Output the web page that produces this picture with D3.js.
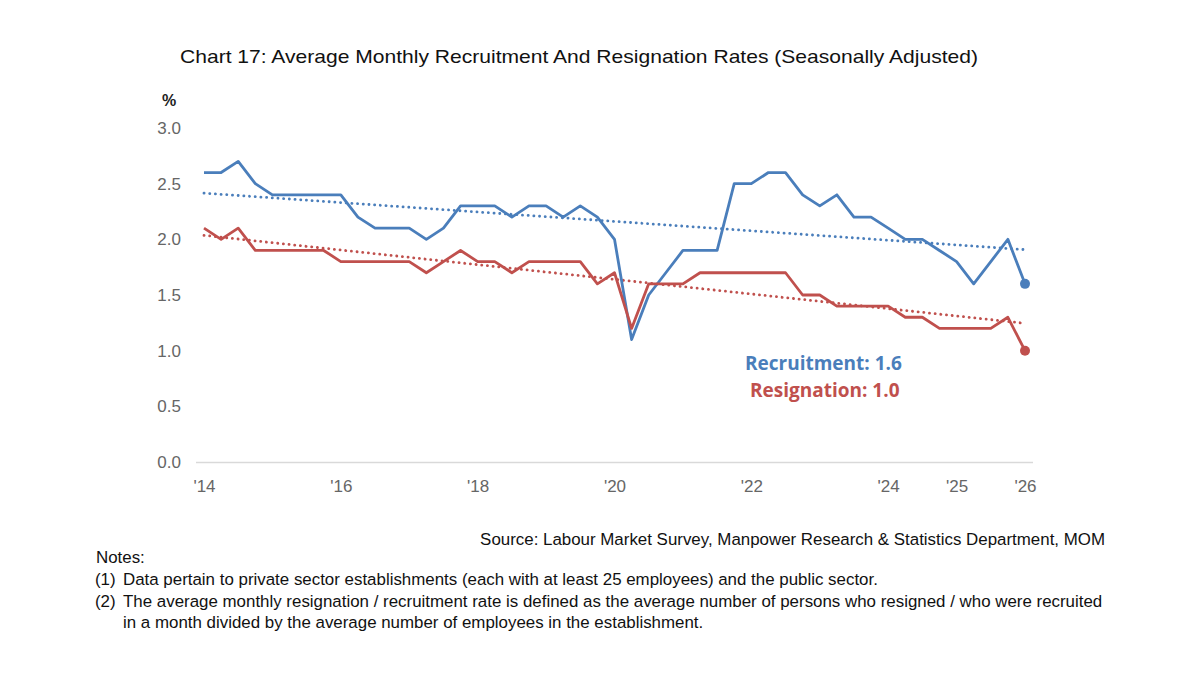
<!DOCTYPE html>
<html>
<head>
<meta charset="utf-8">
<script src="https://cdn.jsdelivr.net/npm/d3@7"></script>
<style>
  body { margin: 0; background: #fff; }
  svg { display: block; }
</style>
</head>
<body>
<svg id="chart" width="1200" height="675"></svg>
<script>
// quarterly, 2014 Q1 .. 2026 Q1
const quarters = d3.range(49);
const recruitment = [2.6, 2.6, 2.7, 2.5, 2.4, 2.4, 2.4, 2.4, 2.4, 2.2, 2.1, 2.1, 2.1, 2.0, 2.1,
  2.3, 2.3, 2.3, 2.2, 2.3, 2.3, 2.2, 2.3, 2.2, 2.0, 1.1, 1.5, 1.7, 1.9, 1.9, 1.9,
  2.5, 2.5, 2.6, 2.6, 2.4, 2.3, 2.4, 2.2, 2.2, 2.1, 2.0, 2.0, 1.9, 1.8, 1.6, 1.8, 2.0, 1.6];
const resignation = [2.1, 2.0, 2.1, 1.9, 1.9, 1.9, 1.9, 1.9, 1.8, 1.8, 1.8, 1.8, 1.8, 1.7, 1.8,
  1.9, 1.8, 1.8, 1.7, 1.8, 1.8, 1.8, 1.8, 1.6, 1.7, 1.2, 1.6, 1.6, 1.6, 1.7, 1.7,
  1.7, 1.7, 1.7, 1.7, 1.5, 1.5, 1.4, 1.4, 1.4, 1.4, 1.3, 1.3, 1.2, 1.2, 1.2, 1.2, 1.3, 1.0];
const tickIndex = [0, 8, 16, 24, 32, 40, 44, 48];
const tickLabels = ["'14", "'16", "'18", "'20", "'22", "'24", "'25", "'26"];
const yTicks = [0, 0.5, 1.0, 1.5, 2.0, 2.5, 3.0];

const blue = "#4a7ebb", red = "#c0504d";
const svg = d3.select("#chart");

const x = d3.scaleLinear().domain([0, 48]).range([204, 1025]);
const y = d3.scaleLinear().domain([0, 3]).range([462, 128]);

// title
svg.append("text")
  .attr("x", 579).attr("y", 63)
  .attr("text-anchor", "middle")
  .attr("font-family", "Liberation Sans, Arial, sans-serif")
  .attr("font-size", 19).attr("fill", "#111")
  .attr("textLength", 798).attr("lengthAdjust", "spacingAndGlyphs")
  .text("Chart 17: Average Monthly Recruitment And Resignation Rates (Seasonally Adjusted)");

svg.append("text")
  .attr("x", 162).attr("y", 106)
  .attr("font-family", "Liberation Sans, Arial, sans-serif")
  .attr("font-size", 16).attr("font-weight", "bold").attr("fill", "#222")
  .text("%");

// y axis labels
const yAxis = svg.append("g")
  .attr("transform", "translate(181,0)")
  .call(d3.axisLeft(y).tickValues(yTicks).tickFormat(d3.format(".1f")).tickSize(0).tickPadding(0));
yAxis.select(".domain").remove();
yAxis.selectAll("text")
  .attr("font-family", "Liberation Sans, Arial, sans-serif")
  .attr("font-size", 17).attr("fill", "#666");

// x axis
const xAxis = svg.append("g")
  .attr("transform", "translate(0,462)")
  .call(d3.axisBottom(x).tickValues(tickIndex).tickFormat((d, i) => tickLabels[i]).tickSize(0).tickPadding(18));
xAxis.select(".domain").attr("stroke", "#d9d9d9").attr("stroke-width", 1.5)
  .attr("d", "M196,0.5H1033");
xAxis.selectAll("text")
  .attr("font-family", "Liberation Sans, Arial, sans-serif")
  .attr("font-size", 17).attr("fill", "#666");

// linear trend (least squares)
function trend(vals) {
  const mx = d3.mean(quarters), my = d3.mean(vals);
  let sxy = 0, sxx = 0;
  quarters.forEach((q, i) => { sxy += (q - mx) * (vals[i] - my); sxx += (q - mx) * (q - mx); });
  const b = sxy / sxx, a = my - b * mx;
  return [0, 48].map(q => [q, a + b * q]);
}

const line = d3.line().x((d, i) => x(quarters[i])).y(d => y(d));
const tline = d3.line().x(d => x(d[0])).y(d => y(d[1]));

[[recruitment, blue], [resignation, red]].forEach(([vals, col]) => {
  svg.append("path")
    .attr("d", tline(trend(vals)))
    .attr("fill", "none").attr("stroke", col)
    .attr("stroke-width", 2.8).attr("stroke-linecap", "round")
    .attr("stroke-dasharray", "0.1 5.6");
});

[[recruitment, blue], [resignation, red]].forEach(([vals, col]) => {
  svg.append("path")
    .attr("d", line(vals))
    .attr("fill", "none").attr("stroke", col)
    .attr("stroke-width", 2.8).attr("stroke-linejoin", "round");
  svg.append("circle")
    .attr("cx", x(48)).attr("cy", y(vals[48])).attr("r", 5)
    .attr("fill", col);
});

// annotations
svg.append("text")
  .attr("x", 745).attr("y", 370)
  .attr("font-family", "Open Sans, Noto Sans, sans-serif")
  .attr("font-size", 19).attr("font-weight", "bold").attr("fill", blue)
  .text("Recruitment: " + recruitment[48].toFixed(1));
svg.append("text")
  .attr("x", 750).attr("y", 397)
  .attr("font-family", "Open Sans, Noto Sans, sans-serif")
  .attr("font-size", 19).attr("font-weight", "bold").attr("fill", red)
  .text("Resignation: " + resignation[48].toFixed(1));

// source + notes
const txt = (s, xx, yy, anchor) => svg.append("text")
  .attr("x", xx).attr("y", yy)
  .attr("text-anchor", anchor || "start")
  .attr("font-family", "Liberation Sans, Arial, sans-serif")
  .attr("font-size", 16.9).attr("fill", "#111")
  .text(s);
txt("Source: Labour Market Survey, Manpower Research & Statistics Department, MOM", 1105, 545, "end");
txt("Notes:", 96, 563);
txt("(1)", 95, 585);
txt("Data pertain to private sector establishments (each with at least 25 employees) and the public sector.", 123, 585);
txt("(2)", 95, 607);
txt("The average monthly resignation / recruitment rate is defined as the average number of persons who resigned / who were recruited", 123, 607);
txt("in a month divided by the average number of employees in the establishment.", 123, 628);
</script>
</body>
</html>
